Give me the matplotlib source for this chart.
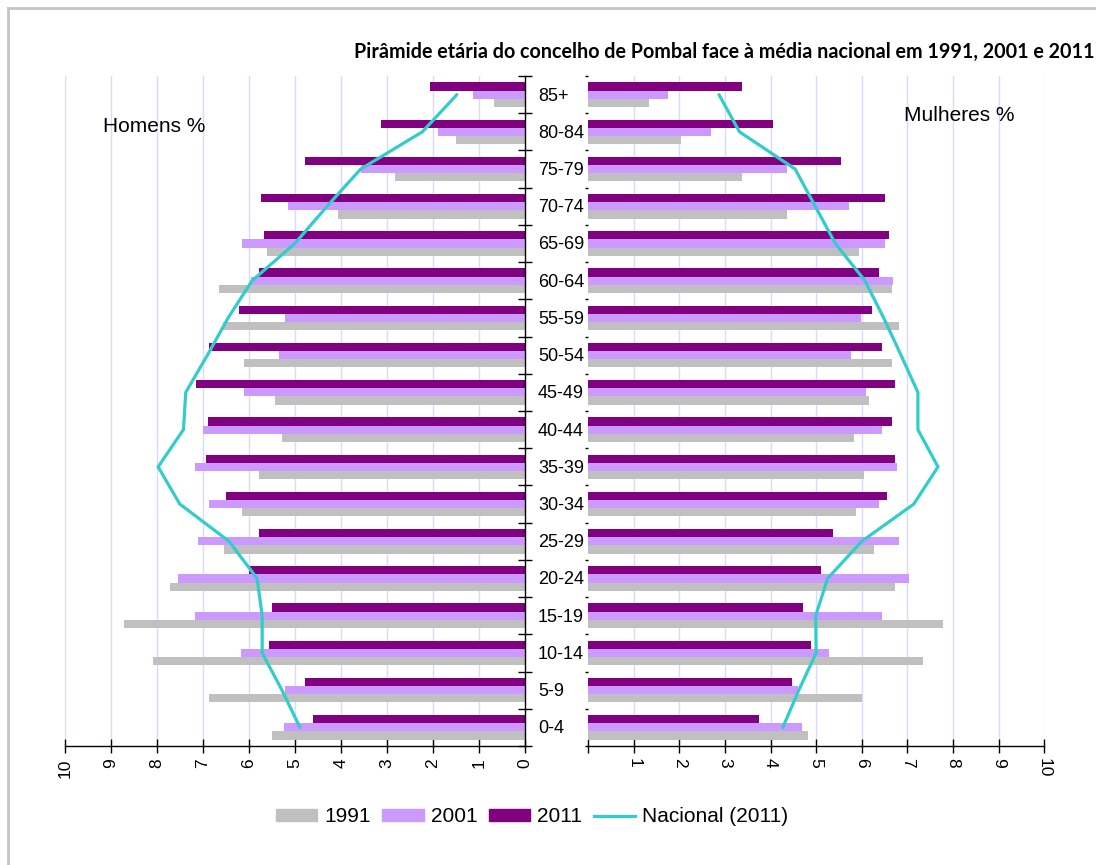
import matplotlib
matplotlib.use("Agg")
import matplotlib.pyplot as plt
from matplotlib.patches import Patch
from matplotlib.lines import Line2D
import numpy as np

plt.rcParams['font.family'] = ['Liberation Sans', 'DejaVu Sans']

ages = ['0-4', '5-9', '10-14', '15-19', '20-24', '25-29', '30-34', '35-39', '40-44',
        '45-49', '50-54', '55-59', '60-64', '65-69', '70-74', '75-79', '80-84', '85+']

# Homens %
h1991 = [5.50, 6.86, 8.08, 8.71, 7.71, 6.54, 6.15, 5.78, 5.28, 5.43, 6.10, 6.56, 6.65, 5.60, 4.06, 2.82, 1.50, 0.67]
h2001 = [5.23, 5.21, 6.17, 7.17, 7.54, 7.10, 6.87, 7.17, 7.00, 6.10, 5.34, 5.21, 5.95, 6.15, 5.15, 3.57, 1.89, 1.13]
h2011 = [4.61, 4.78, 5.56, 5.50, 6.00, 5.78, 6.50, 6.93, 6.89, 7.15, 6.86, 6.21, 5.78, 5.67, 5.74, 4.78, 3.13, 2.06]
h_nac = [4.89, 5.28, 5.71, 5.71, 5.82, 6.43, 7.50, 7.97, 7.42, 7.37, 6.90, 6.45, 5.93, 5.00, 4.30, 3.57, 2.23, 1.48]

# Mulheres %
f1991 = [4.82, 6.00, 7.34, 7.78, 6.73, 6.27, 5.87, 6.05, 5.83, 6.16, 6.66, 6.81, 6.66, 5.94, 4.36, 3.37, 2.03, 1.33]
f2001 = [4.69, 4.61, 5.28, 6.44, 7.03, 6.81, 6.37, 6.77, 6.44, 6.09, 5.76, 5.98, 6.68, 6.51, 5.72, 4.36, 2.69, 1.75]
f2011 = [3.74, 4.47, 4.88, 4.71, 5.10, 5.37, 6.55, 6.73, 6.66, 6.73, 6.44, 6.22, 6.37, 6.59, 6.51, 5.54, 4.05, 3.37]
f_nac = [4.27, 4.62, 5.00, 4.99, 5.25, 6.00, 7.14, 7.67, 7.23, 7.23, 6.86, 6.48, 6.07, 5.42, 4.98, 4.54, 3.32, 2.87]

c1991 = "#c0c0c0"
c2001 = "#cc99ff"
c2011 = "#800080"
cnac = "#33cccc"
grid_c = "#dadaff"

W, H = 1096, 865
fig = plt.figure(figsize=(W / 100, H / 100), dpi=100)

# frame of the original chart area (cut off right and bottom)
fig.add_artist(Line2D([8 / W, 8 / W], [0, 1 - 8 / H], color="#c4c4c4", lw=2))
fig.add_artist(Line2D([8 / W, 1], [1 - 8 / H, 1 - 8 / H], color="#c4c4c4", lw=2))

y_bot, y_top = 746, 76
ax_l = fig.add_axes([64.7 / W, (H - y_bot) / H, (525 - 64.7) / W, (y_bot - y_top) / H])
ax_r = fig.add_axes([588 / W, (H - y_bot) / H, (1044.3 - 588) / W, (y_bot - y_top) / H])

y = np.arange(len(ages))
bh = 0.22

for ax, d91, d01, d11, nac in [(ax_l, h1991, h2001, h2011, h_nac),
                               (ax_r, f1991, f2001, f2011, f_nac)]:
    ax.barh(y - bh, d91, height=bh, color=c1991, linewidth=0, zorder=2)
    ax.barh(y, d01, height=bh, color=c2001, linewidth=0, zorder=2)
    ax.barh(y + bh, d11, height=bh, color=c2011, linewidth=0, zorder=2)
    ax.plot(nac, y, color=cnac, lw=2.3, zorder=3, solid_capstyle='round')
    ax.set_xlim(0, 10)
    ax.set_ylim(-0.5, len(ages) - 0.5)
    ax.set_xticks(range(0, 11))
    for v in range(1, 11):
        ax.axvline(v, color=grid_c, lw=1, zorder=1)
    ax.set_yticks(np.arange(-0.5, len(ages), 1.0))
    ax.set_yticklabels([])
    for s in ['top', 'left', 'right']:
        ax.spines[s].set_visible(False)
    ax.spines['bottom'].set_linewidth(1)
    ax.tick_params(axis='x', direction='inout', length=10, width=1, labelsize=12.5, pad=4)

ax_l.invert_xaxis()
ax_l.spines['right'].set_visible(True)
ax_l.spines['right'].set_linewidth(1)
ax_l.yaxis.tick_right()
ax_l.tick_params(axis='y', direction='inout', length=10, width=1)
ax_l.tick_params(axis='x', labelrotation=90)
ax_l.set_xticklabels([str(v) for v in range(0, 11)])

ax_r.tick_params(axis='y', direction='out', length=2, width=1)
ax_r.tick_params(axis='x', labelrotation=270)
ax_r.set_xticklabels([''] + [str(v) for v in range(1, 11)])

for i, a in enumerate(ages):
    ax_l.text(-0.28, i - 0.04, a, ha='left', va='center', fontsize=13, clip_on=False)

fig.text(103 / W, 1 - 126 / H, "Homens %", fontsize=15, ha='left', va='center')
fig.text(904 / W, 1 - 116 / H, "Mulheres %", fontsize=15, ha='left', va='center')

fig.text(1094 / W, 1 - 52 / H,
         "Pirâmide etária do concelho de Pombal face à média nacional em 1991, 2001 e 2011",
         fontsize=14.2, fontweight='bold', ha='right', va='center', family=['Lato', 'DejaVu Sans'])

handles = [Patch(color=c1991, label='1991'), Patch(color=c2001, label='2001'),
           Patch(color=c2011, label='2011'), Line2D([], [], color=cnac, lw=2.3, label='Nacional (2011)')]
fig.legend(handles=handles, loc='center', bbox_to_anchor=(532 / W, 1 - 817 / H), ncol=4,
           frameon=False, fontsize=15, handlelength=2.0, handleheight=0.55,
           handletextpad=0.33, columnspacing=0.55, borderaxespad=0)

fig.savefig("out.png", dpi=100)
